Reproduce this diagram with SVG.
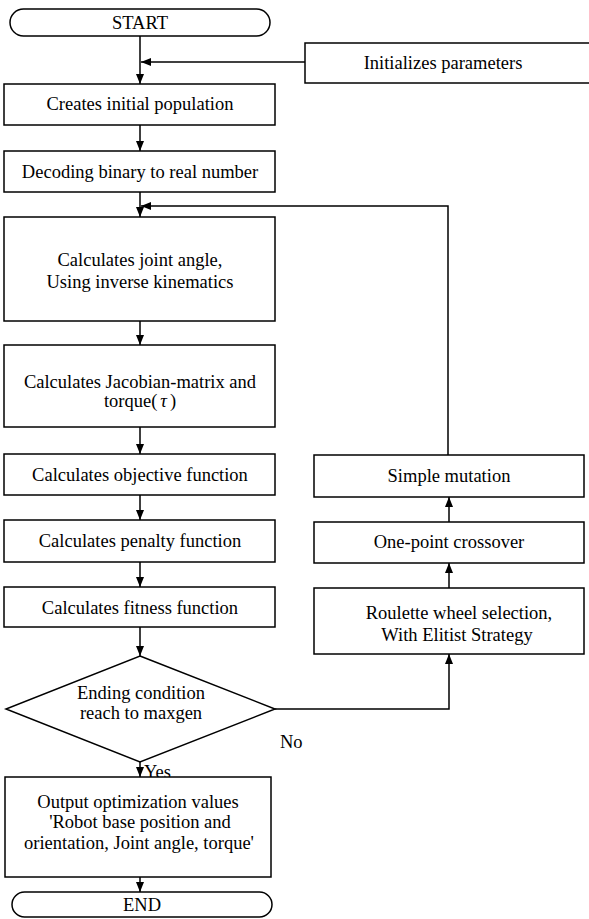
<svg xmlns="http://www.w3.org/2000/svg" width="589" height="919" viewBox="0 0 589 919">
<style>
.b{fill:#fff;stroke:#000;stroke-width:1.5}
.c{fill:none;stroke:#000;stroke-width:1.5}
text{font-family:"Liberation Serif","DejaVu Serif",serif;font-size:18.5px;fill:#000;text-anchor:middle}
.l{text-anchor:start}
</style>
<defs>
<marker id="ah" markerUnits="userSpaceOnUse" markerWidth="10" markerHeight="8" refX="10" refY="4" orient="auto">
<path d="M0,0 L10,4 L0,8 Z" fill="#000"/>
</marker>
</defs>
<rect width="589" height="919" fill="#fff"/>
<g id="connectors">
<path class="c" d="M140,36 V84" marker-end="url(#ah)"/>
<path class="c" d="M305,62 H141" marker-end="url(#ah)"/>
<path class="c" d="M140,125 V151" marker-end="url(#ah)"/>
<path class="c" d="M140,192 V217" marker-end="url(#ah)"/>
<path class="c" d="M448,455 V206 H141" marker-end="url(#ah)"/>
<path class="c" d="M140,321 V345" marker-end="url(#ah)"/>
<path class="c" d="M140,427 V454" marker-end="url(#ah)"/>
<path class="c" d="M140,495 V520" marker-end="url(#ah)"/>
<path class="c" d="M140,562 V587" marker-end="url(#ah)"/>
<path class="c" d="M140,627 V656" marker-end="url(#ah)"/>
<path class="c" d="M275,709 H449 V654" marker-end="url(#ah)"/>
<path class="c" d="M449,588 V563" marker-end="url(#ah)"/>
<path class="c" d="M449,522 V497" marker-end="url(#ah)"/>
<path class="c" d="M140,762 V777" marker-end="url(#ah)"/>
<path class="c" d="M140,877 V892" marker-end="url(#ah)"/>
<text class="l" x="280" y="748">No</text>
<text class="l" x="144" y="778">Yes</text>
</g>
<g id="start"><rect class="b" x="10" y="9" width="260" height="27" rx="13.5"/><text x="140" y="29">START</text></g>
<g id="init"><rect class="b" x="305" y="43" width="300" height="40"/><text x="443" y="69">Initializes parameters</text></g>
<g id="create"><rect class="b" x="4" y="84" width="271" height="41"/><text x="140" y="110">Creates initial population</text></g>
<g id="decode"><rect class="b" x="4" y="151" width="271" height="41"/><text x="140" y="178">Decoding binary to real number</text></g>
<g id="joint"><rect class="b" x="4" y="217" width="271" height="104"/><text x="140" y="266">Calculates joint angle,</text><text x="140" y="288">Using inverse kinematics</text></g>
<g id="jacobian"><rect class="b" x="4" y="345" width="271" height="82"/><text x="140" y="388">Calculates Jacobian-matrix and</text><text x="140" y="407">torque(<tspan font-style="italic" dx="3">τ</tspan><tspan dx="3">)</tspan></text></g>
<g id="objective"><rect class="b" x="4" y="454" width="271" height="41"/><text x="140" y="481">Calculates objective function</text></g>
<g id="penalty"><rect class="b" x="4" y="520" width="271" height="42"/><text x="140" y="547">Calculates penalty function</text></g>
<g id="fitness"><rect class="b" x="4" y="587" width="271" height="40"/><text x="140" y="614">Calculates fitness function</text></g>
<g id="ending"><polygon class="b" points="140,656 275,709 140,762 6,709"/><text x="141" y="699">Ending condition</text><text x="141" y="719">reach to maxgen</text></g>
<g id="output"><rect class="b" x="5" y="777" width="266" height="100"/><text x="138" y="808">Output optimization values</text><text x="140" y="828">'Robot base position and</text><text x="139" y="849">orientation, Joint angle, torque'</text></g>
<g id="end"><rect class="b" x="12" y="892" width="260" height="25" rx="12.5"/><text x="142" y="911">END</text></g>
<g id="mutation"><rect class="b" x="314" y="455" width="270" height="42"/><text x="449" y="482">Simple mutation</text></g>
<g id="crossover"><rect class="b" x="314" y="522" width="270" height="41"/><text x="449" y="548">One-point crossover</text></g>
<g id="roulette"><rect class="b" x="314" y="588" width="270" height="66"/><text x="459" y="619">Roulette wheel selection,</text><text x="457" y="641">With Elitist Strategy</text></g>
</svg>
